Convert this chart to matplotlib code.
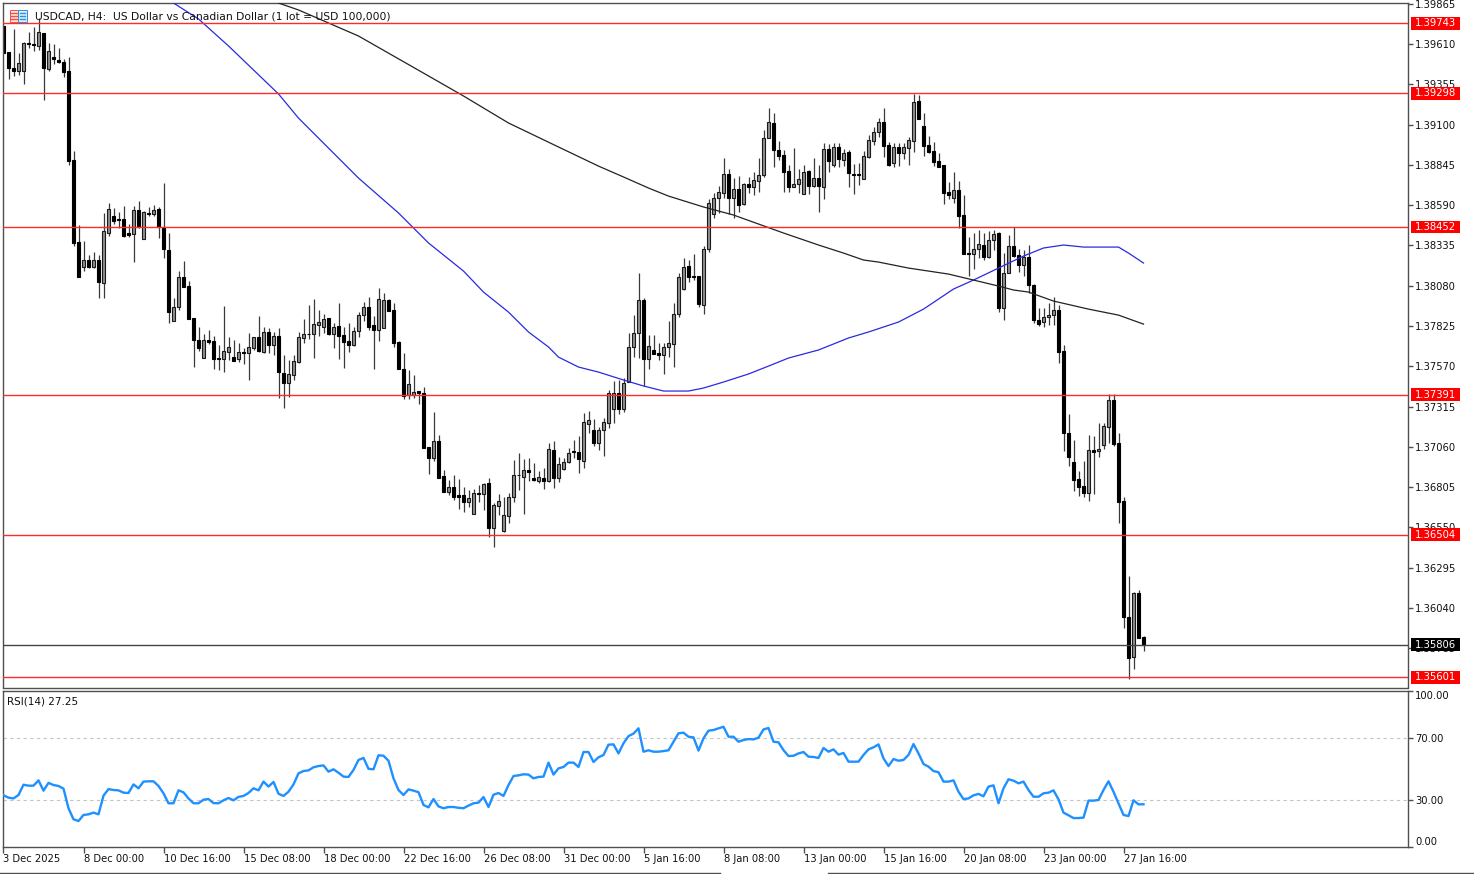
import numpy as np
import matplotlib
matplotlib.use('Agg')
import matplotlib.pyplot as plt
from matplotlib.lines import Line2D
from matplotlib.patches import Rectangle

# USDCAD H4, prices in points (1e-5)
opens = [
    139725,139558,139457,139442,139438,139620,139613,139601,139679,139451,
    139527,139508,139497,139440,138876,138355,138201,138243,138201,138243,
    138095,138416,138522,138505,138505,138412,138408,138560,138374,138543,
    138534,138564,138454,138306,137859,137947,138133,138078,137873,137736,
    137620,137734,137728,137620,137616,137662,137626,137616,137662,137656,
    137687,137753,137662,137785,137702,137761,137530,137462,137513,137599,
    137749,137777,137775,137829,137821,137874,137772,137825,137768,137730,
    137703,137792,137893,137944,137832,137800,137810,137990,137927,137722,
    137555,137388,137388,137411,137403,137057,136989,137095,136875,136776,
    136803,136755,136755,136712,136632,136765,136761,136829,136548,136687,
    136527,136624,136744,136879,136871,136913,136864,136845,136864,136845,
    137040,136860,136917,136966,137031,137029,136972,137202,137166,137086,
    137166,137212,137297,137402,137297,137472,137690,137783,137990,137614,
    137673,137652,137639,137690,137711,137901,138059,138207,138142,138142,
    137958,138311,138532,138638,138670,138788,138638,138693,138598,138727,
    138708,138746,138779,139018,139113,138940,138908,138807,138708,138722,
    138661,138807,138714,138765,138708,138946,138843,138957,138877,138925,
    138788,138788,138754,138898,138999,139056,139115,138972,138855,138957,
    138923,138955,138999,139250,139092,138972,138936,138870,138845,138672,
    138638,138686,138528,138285,138279,138313,138340,138264,138370,138412,
    137937,138163,138332,138275,138211,138260,138085,137863,137852,137880,
    137895,137926,137667,137145,136961,136854,136811,136769,137042,137035,
    137069,137187,137356,137082,136716,135980,135730,136132,135853]
closes = [
    139556,139457,139442,139493,139620,139611,139605,139685,139457,139567,
    139518,139499,139434,138870,138348,138137,138243,138196,138243,138106,
    138427,138566,138492,138496,138395,138399,138560,138454,138547,138534,
    138560,138454,138310,137916,137947,138133,138074,137867,137736,137685,
    137736,137725,137616,137614,137664,137690,137605,137660,137656,137690,
    137753,137668,137785,137704,137761,137535,137462,137523,137603,137753,
    137775,137772,137838,137848,137870,137772,137821,137764,137726,137703,
    137794,137895,137948,137817,137800,137998,137990,137922,137715,137551,
    137382,137458,137409,137399,137054,136987,137095,136860,136776,136803,
    136744,136744,136712,136738,136765,136761,136824,136548,136691,136714,
    136628,136740,136881,136883,136913,136898,136850,136866,136845,137048,
    136864,136951,136966,137019,137025,136980,137214,137229,137081,137166,
    137219,137402,137402,137297,137466,137690,137783,137990,137614,137698,
    137648,137639,137690,137719,137901,138133,138201,138137,138133,137964,
    138315,138606,138638,138676,138788,138638,138693,138591,138725,138708,
    138750,138782,139018,139119,138940,138904,138803,138708,138725,138758,
    138803,138712,138763,138714,138946,138872,138957,138881,138923,138792,
    138779,138779,138902,139003,139052,139115,138967,138843,138957,138919,
    138957,139003,139246,139134,138967,138929,138866,138834,138665,138657,
    138686,138524,138279,138279,138313,138344,138264,138370,138408,137937,
    138163,138332,138270,138211,138260,138085,137863,137835,137880,137895,
    137926,137662,137145,136997,136850,136807,136769,137040,137029,137048,
    137192,137356,137078,136712,135984,135724,136132,135846,135806]
highs = [
    139725,139563,139704,139552,139626,139689,139717,139774,139683,139615,
    139611,139584,139514,139527,138933,138465,138365,138275,138296,138275,
    138539,138602,138570,138545,138585,138471,138585,138617,138553,138577,
    138591,138581,138729,138412,138000,138175,138237,138112,137873,137816,
    137772,137799,137761,137704,137951,137753,137736,137715,137683,137778,
    137757,137888,137816,137810,137789,137810,137641,137610,137641,137789,
    137867,137958,137994,137927,137899,137878,137842,137969,137821,137842,
    137817,137916,137975,138011,137889,138064,138036,137994,137969,137732,
    137652,137546,137515,137416,137437,137057,137278,137135,136913,136850,
    136881,136856,136807,136786,136790,136818,136829,136860,136702,136761,
    136744,136765,136976,137019,136981,136987,136959,136907,136924,137086,
    137097,136997,136987,137050,137103,137130,137271,137288,137233,137183,
    137240,137419,137476,137483,137493,137783,137895,138159,138000,137768,
    137768,137715,137715,137859,137969,138163,138258,138243,138279,138142,
    138332,138627,138665,138712,138887,138820,138760,138775,138733,138767,
    138803,138887,139067,139204,139176,138997,138940,138845,138950,138820,
    138845,138813,138887,138845,138986,138976,138986,138986,138944,138940,
    138851,138855,138934,139035,139083,139140,139204,138993,138986,138986,
    138986,139024,139295,139290,139172,139029,138988,138919,138845,138739,
    138798,138746,138655,138387,138416,138433,138412,138429,138433,138423,
    138290,138401,138454,138311,138306,138338,138089,137937,137937,137969,
    138006,137958,137705,137265,137103,136909,136970,137135,137128,137208,
    137208,137394,137394,137145,136740,136241,136142,136153,135861]
lows = [
    139552,139387,139409,139415,139358,139584,139569,139573,139256,139442,
    139485,139489,139404,138847,138334,138137,138175,138190,138194,138004,
    138004,138397,138471,138448,138391,138386,138232,138443,138374,138522,
    138522,138380,138253,137842,137856,137926,138074,137867,137567,137668,
    137620,137711,137550,137546,137535,137609,137603,137599,137584,137483,
    137673,137662,137656,137656,137641,137367,137308,137378,137483,137593,
    137720,137741,137620,137762,137783,137768,137684,137614,137557,137663,
    137699,137758,137859,137800,137551,137732,137810,137922,137694,137551,
    137361,137361,137371,137329,137054,136888,136972,136860,136776,136755,
    136723,136664,136649,136676,136632,136712,136660,136491,136427,136628,
    136522,136579,136712,136786,136634,136845,136845,136829,136790,136839,
    136797,136839,136913,136959,136987,136892,136923,137145,137065,137039,
    137001,137176,137208,137265,137282,137472,137631,137620,137445,137550,
    137648,137610,137521,137631,137567,137884,138053,138106,138116,137947,
    137901,138296,138507,138543,138634,138534,138507,138549,138591,138665,
    138655,138676,138771,139014,138834,138877,138676,138676,138708,138665,
    138661,138661,138708,138549,138627,138803,138834,138834,138839,138708,
    138661,138718,138754,138887,138972,139024,138898,138839,138834,138839,
    138881,138845,138929,139134,138902,138919,138839,138834,138596,138627,
    138602,138444,138279,138142,138184,138254,138243,138254,138306,137916,
    137863,138163,138264,138169,138142,138036,137846,137825,137821,137831,
    137831,137588,137035,136940,136782,136750,136740,136719,136759,136997,
    137044,137082,137065,136575,135910,135589,135650,135846,135768]

rsi = [
    33,31.5,31,33.2,39.8,39.2,39.2,42.6,36,41,
    39.6,39,37.3,24.7,17.6,16.5,20.4,20.8,21.9,20.8,
    32.8,37,36.4,36.2,34.7,34.5,40,37.5,41.8,42,
    42,39,34.3,27.9,27.9,36.2,34.9,31,27.9,27.9,
    30.2,30.6,28,27.9,29.8,31.3,29.8,32,32.6,34.5,
    37.5,36.2,41.8,38.6,41.6,34,32.6,35.3,40,47.1,
    48.6,49,51,51.8,52.2,48.2,49.7,47.5,45,44.8,
    49.3,55.7,57,50,49.7,58.7,58.4,55.2,43.9,36.4,
    33.2,36.8,36,35,26.8,25.3,30.6,25.9,24.7,25.5,
    25.5,25,24.7,26.4,27.9,28.3,31.9,25.5,33.4,34.5,
    32.6,39.6,45.4,45.8,46.5,46.3,43.9,44.8,45,54,
    46.3,50.3,51.2,54,54,51.2,60.8,60.8,54.4,57.4,
    58.9,65.5,65.7,59.9,66.4,71,72.6,76,61,61.9,
    61,61,61.4,61.9,67.4,72.8,73.2,70.6,70.2,61.7,
    69.6,74.5,74.9,76,77,70.6,70.6,67.4,68.5,69.1,
    68.9,70,75.3,76.2,67.4,67,62,58.2,58.4,59.9,
    60.8,57.8,57.6,57,63.4,61,62.5,59.1,60.2,54.6,
    54.6,54.6,58.9,62.5,63.8,65.7,56.7,51.8,56.3,55.2,
    55.7,58.9,65.9,59.9,53.1,51.4,48.6,47.8,41.8,41.8,
    42.6,35.3,30.6,31,33,33.9,32.4,38.6,39.4,27.9,
    37.5,43.3,42.4,40.7,41.8,36.4,32.1,32.1,34.3,34.7,
    36.2,30.4,21.9,20.2,18.4,18.4,18.7,29.6,29.6,30,
    36.4,42,35.3,27.9,20.4,19.7,29.8,27.2,27.25]

# moving averages, read at some of the bars
blue_idx = [34,39,45,55,59,71,79,85,92,96,101,105,109,111,115,119,124,128,132,137,
            140,144,149,153,157,163,169,173,179,184,190,194,199,204,208,212,216,223,225,228]
blue_ma = [139871,139770,139599,139295,139142,138762,138541,138351,138173,138040,
           137913,137787,137692,137628,137565,137533,137483,137445,137413,137413,
           137432,137470,137521,137571,137622,137673,137749,137787,137850,137932,
           138059,138116,138192,138268,138319,138338,138325,138325,138287,138224]
black_idx = [54,55,59,71,85,92,101,111,119,124,129,133,140,146,151,156,163,168,172,175,
             181,185,189,194,199,202,205,210,217,223,228]
black_ma = [139890,139871,139827,139662,139409,139282,139111,138959,138838,138769,
            138699,138648,138579,138528,138471,138414,138338,138287,138243,138230,
            138192,138173,138154,138116,138078,138053,138040,137983,137932,137894,137837]

levels = [1.39743, 1.39298, 1.38452, 1.37391, 1.36504, 1.35601]
last_price = 1.35806
price_ticks = [1.39865, 1.39610, 1.39355, 1.39100, 1.38845, 1.38590, 1.38335, 1.38080,
               1.37825, 1.37570, 1.37315, 1.37060, 1.36805, 1.36550, 1.36295, 1.36040, 1.35785]
rsi_ticks = [100, 70, 30, 0]
date_labels = ['3 Dec 2025', '8 Dec 00:00', '10 Dec 16:00', '15 Dec 08:00', '18 Dec 00:00',
               '22 Dec 16:00', '26 Dec 08:00', '31 Dec 00:00', '5 Jan 16:00', '8 Jan 08:00',
               '13 Jan 00:00', '15 Jan 16:00', '20 Jan 08:00', '23 Jan 00:00', '27 Jan 16:00']
title = 'USDCAD, H4:  US Dollar vs Canadian Dollar (1 lot = USD 100,000)'

W, H = 1474, 874
plt.rcParams.update({'font.family': 'DejaVu Sans', 'font.size': 7.2,
                     'axes.linewidth': 1.0, 'axes.edgecolor': '#505050',
                     'xtick.color': '#505050', 'ytick.color': '#505050',
                     'xtick.labelcolor': '#111111', 'ytick.labelcolor': '#111111'})


def box(left, top, right, bottom):
    return [left / W, 1 - bottom / H, (right - left) / W, (bottom - top) / H]


fig = plt.figure(figsize=(W / 100, H / 100), dpi=100, facecolor='w')
ax = fig.add_axes(box(3, 2.7, 1408, 687.5))
ax2 = fig.add_axes(box(3, 690.7, 1408, 847.3))

o = np.array(opens) / 1e5
c = np.array(closes) / 1e5
hi = np.array(highs) / 1e5
lo = np.array(lows) / 1e5
x = np.arange(len(o))
up = c >= o

ax.vlines(x, lo, hi, color='#3a3a3a', lw=0.9, zorder=2)
ax.bar(x[up], (c - o)[up], bottom=o[up], width=0.5, facecolor='#909090',
       edgecolor='#1a1a1a', lw=0.8, zorder=2.5)
ax.bar(x[~up], (c - o)[~up], bottom=o[~up], width=0.5, facecolor='black',
       edgecolor='black', lw=0.8, zorder=2.5)

ax.plot(blue_idx, np.array(blue_ma) / 1e5, color='#2a2ae0', lw=0.9, zorder=3)
ax.plot(black_idx, np.array(black_ma) / 1e5, color='#222222', lw=0.9, zorder=3)

for lev in levels:
    ax.axhline(lev, color='#ff2a2a', lw=1.0, zorder=4)
ax.axhline(last_price, color='#444444', lw=1.0, zorder=4)

ax.set_xlim(-0.1, 280.9)
ax.set_ylim(1.35535, 1.39873)
ax.yaxis.tick_right()
ax.set_yticks(price_ticks)
ax.set_yticklabels(['%.5f' % t for t in price_ticks])
ax.tick_params(axis='y', length=3.5, width=1, pad=1.5)
ax.set_xticks([])

# price tags on the right, 13 px high
tr = ax.get_yaxis_transform()
for lev, col in [(v, '#ff0000') for v in levels] + [(last_price, 'black')]:
    ax.add_patch(Rectangle((1.0021, lev - 0.00041), 0.0349, 0.00082, transform=tr, fc=col,
                           ec='none', zorder=5.5, clip_on=False))
    ax.text(1.005, lev, '%.5f' % lev, transform=tr, color='white', fontsize=7.2, va='center',
            ha='left', zorder=6, clip_on=False)

ax.text(35 / W, 1 - 16.5 / H, title, transform=fig.transFigure, fontsize=7.75, color='#111111',
        va='center', ha='left', zorder=7)

# terminal icon, top left
for left, col in [(9.5, '#f0504a'), (18, '#2f8fd8')]:
    fig.add_artist(Rectangle((left / W, 1 - 22 / H), 8.5 / W, 12 / H, transform=fig.transFigure,
                             fc='#ffe8e0' if left < 10 else '#dcefff', ec=col, lw=0.7))
    for yy in (13, 16, 19):
        fig.add_artist(Line2D([(left + 1.5) / W, (left + 7) / W], [1 - yy / H, 1 - yy / H],
                              transform=fig.transFigure, color=col, lw=1.0))

# rsi panel
for lev in (70, 30):
    ax2.axhline(lev, color='#c4c4c4', lw=0.8, dashes=(3, 3), zorder=1)
ax2.plot(x, rsi, color='#1e90ff', lw=1.7, zorder=3)
ax2.set_xlim(-0.1, 280.9)
ax2.set_ylim(-0.36, 100.15)
ax2.yaxis.tick_right()
ax2.set_yticks(rsi_ticks)
ax2.set_yticklabels(['%.2f' % t for t in rsi_ticks])
ax2.tick_params(axis='y', length=3.5, width=1, pad=1.5)
ylabs = ax2.get_yticklabels()
ylabs[0].set_verticalalignment('top')
ylabs[3].set_verticalalignment('bottom')
ax2.set_xticks(np.arange(len(date_labels)) * 16)
ax2.set_xticklabels(date_labels, ha='left')
ax2.tick_params(axis='x', length=4, width=1, pad=0.6)
ax2.text(7 / W, 1 - 701 / H, 'RSI(14) 27.25', transform=fig.transFigure, fontsize=7.5,
         color='#111111', va='center', ha='left')

# scrollbar edge along the bottom
for x0, x1 in [(0, 720), (828, W)]:
    fig.add_artist(Line2D([x0 / W, x1 / W], [1 - 873 / H, 1 - 873 / H],
                          transform=fig.transFigure, color='#505050', lw=1.0))

fig.savefig('out.png', dpi=100, facecolor='w')
